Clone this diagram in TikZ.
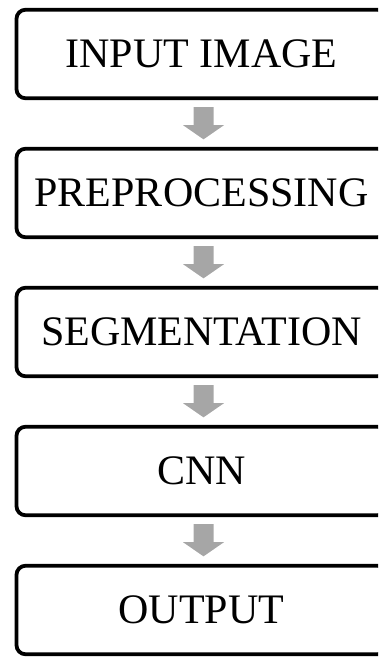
\documentclass[tikz,border=0pt]{standalone}
\usepackage{fontspec}
\usetikzlibrary{calc}
\newfontfamily\boxfont{Liberation Serif}
\definecolor{arrowgray}{RGB}{166,166,166}
\tikzset{
  stagebox/.style={draw=black, line width=3.8pt, rounded corners=9pt, fill=white,
    minimum width=370pt, minimum height=88.5pt, inner sep=0pt,
    font=\boxfont\fontsize{42}{44}\selectfont, text=black},
  blockarrow/.style={fill=arrowgray, draw=none}
}
\newcommand{\flowarrow}[2]{%
  \coordinate (#1t) at ($(#1.south)+(2,-7)$);
  \coordinate (#1h) at ($(#2.north)+(2,7.5)$);
  \fill[blockarrow] ($(#1t)+(-10,0)$) -- ($(#1t)+(10,0)$) -- ($(#1t)+(10,-18)$)
    -- ($(#1t)+(20.5,-18)$) -- (#1h) -- ($(#1t)+(-20.5,-18)$) -- ($(#1t)+(-10,-18)$) -- cycle;}
\begin{document}
\begin{tikzpicture}[x=1pt,y=1pt]
\useasboundingbox (0,0) rectangle (378,-661);
\clip (0,0) rectangle (378,-661);
\node[stagebox] (in)  at (201.5,-54)  {INPUT IMAGE};
\node[stagebox] (pre) at (201.5,-193) {PREPROCESSING};
\node[stagebox] (seg) at (201.5,-332) {SEGMENTATION};
\node[stagebox] (cnn) at (201.5,-471) {CNN};
\node[stagebox] (out) at (201.5,-610) {OUTPUT};
\flowarrow{in}{pre}
\flowarrow{pre}{seg}
\flowarrow{seg}{cnn}
\flowarrow{cnn}{out}
\end{tikzpicture}
\end{document}
